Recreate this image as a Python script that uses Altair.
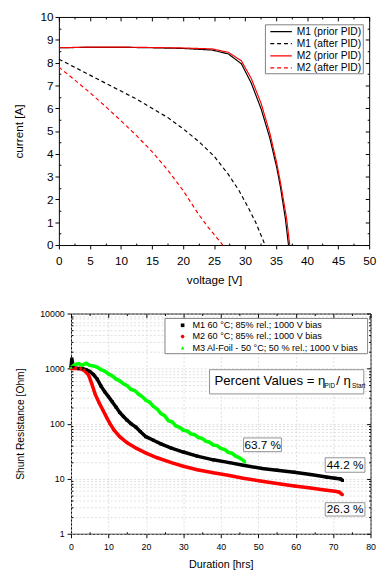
import altair as alt
import pandas as pd

FONT = "Liberation Sans"

# ---------------- top panel: I-V curves ----------------
iv_series = ["M1 (prior PID)", "M1 (after PID)", "M2 (prior PID)", "M2 (after PID)"]
m1_prior_v = [0, 5, 10, 15, 20, 24.7, 27.3, 29.4, 31.0, 32.6, 34.0, 35.1, 35.7, 36.5, 37.0]
m1_prior_i = [8.65, 8.67, 8.67, 8.65, 8.62, 8.55, 8.38, 7.95, 7.1, 5.96, 4.68, 3.4, 2.55, 1.15, 0.0]
m2_prior_v = [0, 5, 10, 15, 20, 24.7, 27.3, 29.4, 31.0, 32.6, 34.0, 35.1, 35.8, 36.7, 37.2]
m2_prior_i = [8.65, 8.68, 8.68, 8.66, 8.64, 8.6, 8.45, 8.08, 7.3, 6.2, 4.9, 3.6, 2.6, 1.15, 0.0]
m1_after_v = [0, 2.5, 5, 7.5, 10, 12.5, 15, 17.5, 20, 22.5, 25, 27.3, 29, 30.4, 31.7, 33.0, 33.2]
m1_after_i = [8.15, 7.8, 7.45, 7.1, 6.75, 6.4, 6.0, 5.6, 5.1, 4.55, 3.9, 3.1, 2.4, 1.7, 1.0, 0.15, 0.0]
m2_after_v = [0, 2.5, 5, 7.5, 10, 12.5, 15, 17.5, 20, 22.5, 24, 25.5, 26.4]
m2_after_i = [7.8, 7.25, 6.68, 6.08, 5.45, 4.8, 4.1, 3.3, 2.4, 1.35, 0.8, 0.3, 0.0]

v_ticks = [0, 5, 10, 15, 20, 25, 30, 35, 40, 45, 50]
v_minor = [2.5, 7.5, 12.5, 17.5, 22.5, 27.5, 32.5, 37.5, 42.5, 47.5]
i_ticks = [0, 1, 2, 3, 4, 5, 6, 7, 8, 9, 10]
i_minor = [0.5, 1.5, 2.5, 3.5, 4.5, 5.5, 6.5, 7.5, 8.5, 9.5]

# ---------------- bottom panel: shunt resistance ----------------
rs_series = ["M1 60 °C; 85% rel.; 1000 V bias",
             "M2 60 °C; 85% rel.; 1000 V bias",
             "M3 Al-Foil - 50 °C; 50 % rel.; 1000 V bias"]
m1_t = [0, 0.2, 0.6, 2, 3, 4, 5, 6, 7, 8, 9, 10, 11, 12, 13, 14, 15, 16, 17.3, 18.5, 20, 22, 24, 26.8,
        30, 33.7, 38, 42.3, 46, 51, 55, 59.6, 64, 68.2, 70.5, 72, 72.5]
m1_r = [1050, 1500, 1050, 1000, 1000, 960, 890, 780, 640, 480, 380, 310, 250, 200, 160, 135, 115, 100, 87,
        72, 58, 50, 43, 36, 30.5, 25.7, 22, 19.6, 17.5, 15.4, 14.3, 13.1, 11.9, 10.7, 10.2, 9.9, 9.3]
m2_t = [0, 1, 2.6, 3.5, 4.7, 5.5, 6.5, 7.5, 8.6, 9.5, 10.4, 11.5, 13, 15, 17.5, 19.9, 23, 26.8, 30, 33.7,
        38, 42.3, 46, 51, 55, 59.6, 64, 68.2, 70.5, 71.7, 72.5]
m2_r = [1000, 1000, 1000, 930, 760, 540, 336, 240, 172, 130, 100, 76, 58, 45, 35.5, 29.5, 24, 19.6, 16.8,
        14.6, 12.8, 11.4, 10.2, 9.0, 8.2, 7.4, 6.8, 6.2, 5.9, 5.7, 5.1]
m3_t = [0, 1, 2, 3, 4, 5, 6, 7, 8, 9, 10, 11, 12, 13, 14, 15, 16, 17, 18, 19, 20, 21, 22, 23, 24, 25,
        26, 27, 28, 29, 30, 31, 32, 33, 34, 35, 36, 37, 38, 39, 40, 41, 42, 43, 44, 45, 46, 46.5]
m3_r = [1050, 1180, 1230, 1160, 1250, 1150, 1120, 1060, 960, 900, 800, 740, 650, 600, 530, 490, 420, 400,
        345, 310, 265, 245, 205, 185, 152, 140, 113, 108, 91, 86, 76, 74, 65, 63, 56, 54, 48, 46, 41,
        40, 35.5, 34, 30, 29, 25.7, 24, 21.5, 20]

t_ticks = [0, 10, 20, 30, 40, 50, 60, 70, 80]
t_minor = [5, 15, 25, 35, 45, 55, 65, 75]
r_ticks = [1, 10, 100, 1000, 10000]
r_minor = [m * d for d in [1, 10, 100, 1000] for m in range(2, 10)]

# annotations (centres and boxes)
ann_text = ["63.7 %", "44.2 %", "26.3 %"]
ann_t = [51.2, 73.2, 73.2]
ann_r = [41.4, 17.9, 2.76]
box_t0 = [46.1, 67.9, 67.9, 37.0]
box_t1 = [56.2, 78.5, 78.5, 78.2]
box_r0 = [31.0, 13.1, 2.10, 347]
box_r1 = [55.0, 24.0, 3.67, 955]
formula_t = [38.3]
formula_r = [600]

ONE = pd.DataFrame({"one": [0]})
TOP_W, TOP_H = 317, 233
BOT_W, BOT_H = 306, 225


def axis(orient, values, labels=True, title=None, tick_size=4, offset=0, grid=False,
         label_size=12, title_size=12, title_pad=10, fmt=None, label_pad=2, ghost=False):
    kw = dict(orient=orient, values=values, labels=labels, domain=False, ticks=True,
              tickSize=tick_size, tickColor="black", tickWidth=1, offset=offset, grid=grid,
              labelFlush=False, labelOverlap=False, labelFont=FONT, labelFontSize=label_size,
              labelColor="black", labelPadding=label_pad, title=title)
    if title is not None:
        kw.update(titleFont=FONT, titleFontSize=title_size, titleFontWeight="normal",
                  titleColor="black", titlePadding=title_pad)
    if fmt:
        kw["format"] = fmt
    if grid:
        kw.update(gridColor="#d6d6d6", gridDash=[2, 2], gridWidth=0.8)
    if ghost:
        kw.update(minExtent=0, maxExtent=0)
    return alt.Axis(**kw)


def ghost(df, xf, yf, sx, sy, ax_x, ax_y):
    return alt.Chart(df).mark_point(opacity=0).encode(
        x=alt.X(xf, scale=sx, axis=ax_x), y=alt.Y(yf, scale=sy, axis=ax_y))


def legend_box(x0, x1, y0, y1):
    return alt.Chart(ONE).mark_rect(fill="white", stroke="#808080", strokeWidth=1).encode(
        x=alt.value(x0), x2=alt.value(x1), y=alt.value(y0), y2=alt.value(y1))


# ---------- top chart ----------
rows = []
for name, vs, cs in [(iv_series[0], m1_prior_v, m1_prior_i), (iv_series[1], m1_after_v, m1_after_i),
                     (iv_series[2], m2_prior_v, m2_prior_i), (iv_series[3], m2_after_v, m2_after_i)]:
    for k, (v, c) in enumerate(zip(vs, cs)):
        rows.append({"V": v, "I": c, "series": name, "k": k})
iv_df = pd.DataFrame(rows)
iv_leg_df = pd.DataFrame({"series": iv_series})

sx_top = alt.Scale(domain=[0, 50], nice=False, zero=False)
sy_top = alt.Scale(domain=[0, 10], nice=False, zero=False)
iv_color = alt.Scale(domain=iv_series, range=["black", "black", "red", "red"])
iv_dash = alt.Scale(domain=iv_series, range=[[1, 0], [4, 3], [1, 0], [4, 3]])

top_lines = alt.Chart(iv_df).mark_line(strokeWidth=1.2).encode(
    x=alt.X("V:Q", scale=sx_top, axis=axis("bottom", v_ticks, title="voltage [V]", title_pad=9,
                                           label_pad=6.5)),
    y=alt.Y("I:Q", scale=sy_top, axis=axis("left", i_ticks, title="current [A]", title_pad=15)),
    color=alt.Color("series:N", scale=iv_color, legend=None),
    strokeDash=alt.StrokeDash("series:N", scale=iv_dash, legend=None),
    order="k:Q",
)

top_g1 = ghost(iv_df, "V:Q", "I:Q", sx_top, sy_top,
               axis("top", v_ticks, labels=False, offset=-4, ghost=True),
               axis("right", i_ticks, labels=False, offset=-4, ghost=True))
top_g2 = ghost(iv_df, "V:Q", "I:Q", sx_top, sy_top,
               axis("bottom", v_minor, labels=False, tick_size=2, offset=-2, ghost=True),
               axis("left", i_minor, labels=False, tick_size=2, offset=-2, ghost=True))
top_g3 = ghost(iv_df, "V:Q", "I:Q", sx_top, sy_top,
               axis("top", v_minor, labels=False, tick_size=2, offset=-2, ghost=True),
               axis("right", i_minor, labels=False, tick_size=2, offset=-2, ghost=True))

iv_leg_y = alt.Y("series:N", scale=alt.Scale(type="point", domain=iv_series, range=[15, 52], padding=0),
                 axis=None)
top_leg_box = legend_box(211, 311, 8, 58)
top_leg_lines = alt.Chart(iv_leg_df).mark_rule(strokeWidth=1.3).encode(
    x=alt.value(216), x2=alt.value(238), y=iv_leg_y,
    color=alt.Color("series:N", scale=iv_color, legend=None),
    strokeDash=alt.StrokeDash("series:N", scale=iv_dash, legend=None))
top_leg_text = alt.Chart(iv_leg_df).mark_text(font=FONT, fontSize=10.5, color="black", align="left",
                                              baseline="middle").encode(
    x=alt.value(243), y=iv_leg_y, text="series:N")

top = alt.layer(top_lines, top_g1, top_g2, top_g3, top_leg_box, top_leg_lines, top_leg_text).resolve_scale(
    y="independent").resolve_axis(x="independent", y="independent").properties(width=TOP_W, height=TOP_H)

# ---------- bottom chart ----------
rows = []
for name, ts, rs in [(rs_series[0], m1_t, m1_r), (rs_series[1], m2_t, m2_r), (rs_series[2], m3_t, m3_r)]:
    for k, (t, r) in enumerate(zip(ts, rs)):
        rows.append({"t": t, "R": r, "series": name, "k": k})
rs_df = pd.DataFrame(rows)
rs_leg_df = pd.DataFrame({"series": rs_series})

sx_bot = alt.Scale(domain=[0, 80], nice=False, zero=False)
sy_bot = alt.Scale(type="log", domain=[1, 10000], nice=False)
rs_color = alt.Scale(domain=rs_series, range=["black", "red", "#00ff00"])
rs_shape = alt.Scale(domain=rs_series, range=["square", "circle", "triangle-up"])

bot_lines = alt.Chart(rs_df).mark_line(strokeWidth=3.6).encode(
    x=alt.X("t:Q", scale=sx_bot, axis=axis("bottom", t_ticks, title="Duration [hrs]", grid=True,
                                            label_size=9, title_size=11, title_pad=8, label_pad=4.7)),
    y=alt.Y("R:Q", scale=sy_bot, axis=axis("left", r_ticks, title="Shunt Resistance [Ohm]", grid=True,
                                            label_size=9, title_size=10.5, title_pad=15, fmt="d",
                                            label_pad=3)),
    color=alt.Color("series:N", scale=rs_color, legend=None),
    order="k:Q",
)
bot_pts = alt.Chart(rs_df).mark_point(filled=True, opacity=1, size=10).encode(
    x=alt.X("t:Q", scale=sx_bot, axis=None),
    y=alt.Y("R:Q", scale=sy_bot, axis=None),
    color=alt.Color("series:N", scale=rs_color, legend=None),
    shape=alt.Shape("series:N", scale=rs_shape, legend=None),
)

bot_g1 = ghost(rs_df, "t:Q", "R:Q", sx_bot, sy_bot,
               axis("top", t_ticks, labels=False, offset=-4, ghost=True),
               axis("right", r_ticks, labels=False, offset=-4, ghost=True))
bot_g2 = ghost(rs_df, "t:Q", "R:Q", sx_bot, sy_bot,
               axis("bottom", t_minor, labels=False, tick_size=2, offset=-2, ghost=True),
               axis("left", r_minor, labels=False, tick_size=2, offset=-2, grid=True, ghost=True))
bot_g3 = ghost(rs_df, "t:Q", "R:Q", sx_bot, sy_bot,
               axis("top", t_minor, labels=False, tick_size=2, offset=-2, ghost=True),
               axis("right", r_minor, labels=False, tick_size=2, offset=-2, ghost=True))

box_df = pd.DataFrame({"t0": box_t0, "t1": box_t1, "r0": box_r0, "r1": box_r1})
ann_df = pd.DataFrame({"t": ann_t, "R": ann_r, "txt": ann_text})
form_df = pd.DataFrame({"t": formula_t, "R": formula_r})

boxes = alt.Chart(box_df).mark_rect(fill="white", stroke="#909090", strokeWidth=1).encode(
    x=alt.X("t0:Q", scale=sx_bot, axis=None), x2="t1:Q",
    y=alt.Y("r0:Q", scale=sy_bot, axis=None), y2="r1:Q")
ann = alt.Chart(ann_df).mark_text(font=FONT, fontSize=12, color="black", align="center",
                                  baseline="middle").encode(
    x=alt.X("t:Q", scale=sx_bot, axis=None), y=alt.Y("R:Q", scale=sy_bot, axis=None), text="txt:N")


def ftext(txt, size, dx, dy):
    return alt.Chart(form_df).mark_text(font=FONT, fontSize=size, color="black", align="left",
                                        baseline="middle", dx=dx, dy=dy).encode(
        x=alt.X("t:Q", scale=sx_bot, axis=None), y=alt.Y("R:Q", scale=sy_bot, axis=None),
        text=alt.value(txt))


f1 = ftext("Percent Values = η", 13.5, 0, 0)
f2 = ftext("PID", 6.5, 112.5, 5)
f3 = ftext("/ η", 13.5, 124.5, 0)
f4 = ftext("Start", 6.5, 140.5, 5)

rs_leg_y = alt.Y("series:N", scale=alt.Scale(type="point", domain=rs_series, range=[12, 35], padding=0),
                 axis=None)
bot_leg_box = legend_box(96, 303, 5, 41)
bot_leg_sym = alt.Chart(rs_leg_df).mark_point(filled=True, opacity=1, size=14).encode(
    x=alt.value(114), y=rs_leg_y,
    color=alt.Color("series:N", scale=rs_color, legend=None),
    shape=alt.Shape("series:N", scale=rs_shape, legend=None))
bot_leg_text = alt.Chart(rs_leg_df).mark_text(font=FONT, fontSize=9.3, color="black", align="left",
                                              baseline="middle").encode(
    x=alt.value(124), y=rs_leg_y, text="series:N")

bottom = alt.layer(bot_lines, bot_pts, bot_g1, bot_g2, bot_g3, boxes, ann, f1, f2, f3, f4,
                   bot_leg_box, bot_leg_sym, bot_leg_text).resolve_scale(
    y="independent").resolve_axis(x="independent", y="independent").properties(width=BOT_W, height=BOT_H)

# an empty 1px cell that lets the lower panel sit further right than the upper one
spacer = alt.Chart(ONE).mark_point(opacity=0).encode(x=alt.value(0), y=alt.value(0)).properties(
    width=1, height=BOT_H, view=alt.ViewBackground(stroke="transparent"))
bottom_row = alt.hconcat(spacer, bottom, spacing=-49.6)

chart = alt.vconcat(top, bottom_row, spacing=23).resolve_scale(
    color="independent", shape="independent", strokeDash="independent").properties(
    padding={"left": 4, "top": -4, "right": 0, "bottom": 0},
    background="white",
).configure_view(stroke="black", strokeWidth=1)

chart.save("out.html", embed_options={"renderer": "svg", "actions": False})
